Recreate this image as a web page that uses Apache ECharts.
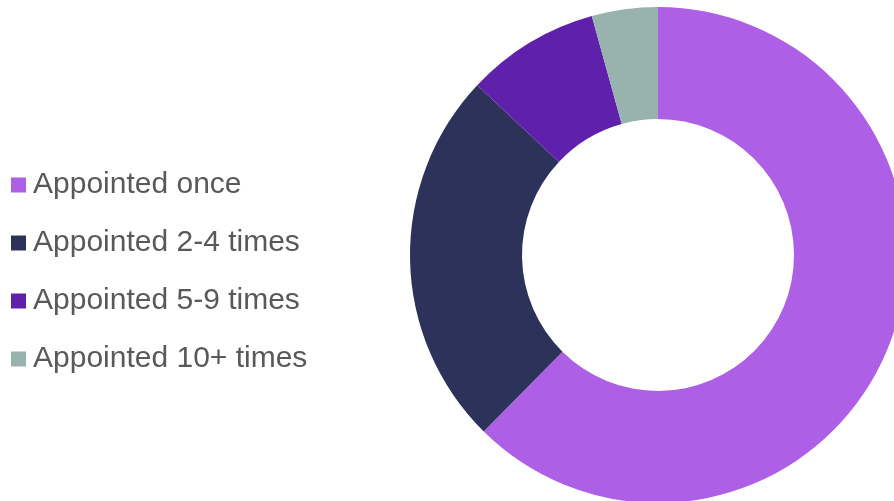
<!DOCTYPE html>
<html>
<head>
<meta charset="utf-8">
<script src="https://cdn.jsdelivr.net/npm/echarts@6/dist/echarts.min.js"></script>
<style>
html, body { margin: 0; padding: 0; background: #fff; }
#chart { width: 894px; height: 501px; }
</style>
</head>
<body>
<div id="chart"></div>
<script>
// appointment counts, share of people (%)
const categories = ['Appointed once', 'Appointed 2-4 times', 'Appointed 5-9 times', 'Appointed 10+ times']
const values = [62.4, 24.6, 8.7, 4.3]
const colors = ['#AD5FE5', '#2C3259', '#5F20AB', '#98B2AE']

const chart = echarts.init(document.getElementById('chart'))
const option = {
  animation: false,
  color: colors,
  legend: {
    orient: 'vertical',
    left: 11,
    top: 170,
    padding: 0,
    icon: 'rect',
    itemWidth: 15,
    itemHeight: 15,
    itemGap: 28,
    data: categories,
    textStyle: {
      fontFamily: 'Liberation Sans, Arial, sans-serif',
      fontSize: 30,
      lineHeight: 30,
      color: '#595959',
      padding: [0, 0, 0, 2]
    }
  },
  series: [
    {
      type: 'pie',
      center: [658, 255],
      radius: [136, 248],
      startAngle: 90,
      clockwise: true,
      label: { show: false },
      labelLine: { show: false },
      itemStyle: { borderWidth: 0 },
      emphasis: { disabled: true },
      data: categories.map((name, i) => ({ name: name, value: values[i] }))
    }
  ]
}
chart.setOption(option)
</script>
</body>
</html>
